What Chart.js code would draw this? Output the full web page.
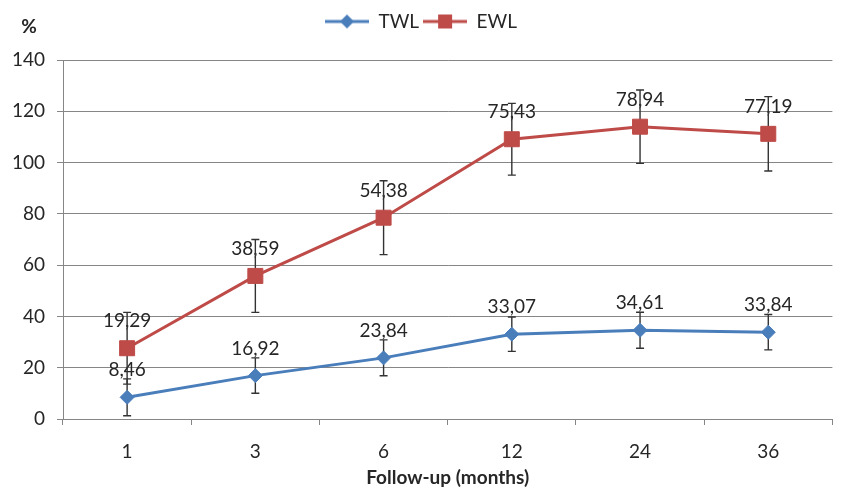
<!DOCTYPE html>
<html>
<head>
<meta charset="utf-8">
<script src="https://cdn.jsdelivr.net/npm/chart.js@4.4.1/dist/chart.umd.min.js"></script>
<style>
html,body{margin:0;padding:0;background:#fff;}
#wrap{width:844px;height:492px;}
</style>
</head>
<body>
<div id="wrap"><canvas id="c" width="844" height="492"></canvas></div>
<script>
const categories = ['1', '3', '6', '12', '24', '36'];
const twlValues = [8.46, 16.92, 23.84, 33.07, 34.61, 33.84];
const twlErrors = [7.2, 6.9, 7.0, 6.7, 7.0, 6.9];
const twlLabels = ['8,46', '16,92', '23,84', '33,07', '34,61', '33,84'];
const ewlValues = [27.6, 55.8, 78.5, 109.1, 114.0, 111.2];
const ewlErrors = [14.0, 14.2, 14.4, 14.0, 14.3, 14.5];
const ewlLabels = ['19,29', '38,59', '54,38', '75,43', '78,94', '77,19'];
const seriesNames = ['TWL', 'EWL'];
const yAxisUnit = '%';
const xAxisTitle = 'Follow-up (months)';

const FONT = 'Lato, "Open Sans", sans-serif';
const BLUE = '#4A7EBB';
const RED = '#BE4B48';
const TEXT = '#262626';

function legendIcon(color, shape) {
  const c = document.createElement('canvas');
  c.width = 44; c.height = 16;
  const g = c.getContext('2d');
  g.strokeStyle = color; g.lineWidth = 3;
  g.beginPath(); g.moveTo(0, 8); g.lineTo(44, 8); g.stroke();
  g.fillStyle = color;
  g.beginPath();
  if (shape === 'diamond') {
    g.moveTo(22, 1); g.lineTo(29, 8); g.lineTo(22, 15); g.lineTo(15, 8); g.closePath();
  } else {
    g.rect(15, 1, 14, 14);
  }
  g.fill();
  return c;
}
const icons = [legendIcon(BLUE, 'diamond'), legendIcon(RED, 'square')];

const extrasPlugin = {
  id: 'extras',
  afterInit(chart) {
    const lg = chart.legend;
    if (lg && !lg._patched) {
      const orig = lg.fit;
      lg.fit = function () { orig.call(this); this.height = 52; };
      lg._patched = true;
    }
  },
  beforeDatasetsDraw(chart) {
    const ctx = chart.ctx;
    const ys = chart.scales.y;
    ctx.save();
    ctx.font = '19px ' + FONT;
    ctx.fillStyle = TEXT;
    ctx.textAlign = 'center';
    ctx.textBaseline = 'middle';
    chart.data.datasets.forEach((ds, i) => {
      const meta = chart.getDatasetMeta(i);
      meta.data.forEach((pt, j) => {
        ctx.fillText(ds.pointText[j], pt.x, pt.y - 27);
      });
    });
    ctx.strokeStyle = '#333';
    ctx.lineWidth = 1.4;
    chart.data.datasets.forEach((ds, i) => {
      const meta = chart.getDatasetMeta(i);
      meta.data.forEach((pt, j) => {
        const v = ds.data[j], e = ds.errors[j];
        const yt = ys.getPixelForValue(v + e);
        const yb = ys.getPixelForValue(v - e);
        ctx.beginPath();
        ctx.moveTo(pt.x, yt); ctx.lineTo(pt.x, yb);
        ctx.moveTo(pt.x - 4, yt); ctx.lineTo(pt.x + 4, yt);
        ctx.moveTo(pt.x - 4, yb); ctx.lineTo(pt.x + 4, yb);
        ctx.stroke();
      });
    });
    ctx.restore();
  },
  afterDraw(chart) {
    const ctx = chart.ctx;
    ctx.save();
    ctx.font = 'bold 19px ' + FONT;
    ctx.fillStyle = TEXT;
    ctx.textAlign = 'center';
    ctx.textBaseline = 'middle';
    ctx.fillText(yAxisUnit, 29, 27);
    ctx.restore();
  }
};

new Chart(document.getElementById('c'), {
  type: 'line',
  data: {
    labels: categories,
    datasets: [
      {
        label: seriesNames[0], data: twlValues, errors: twlErrors, pointText: twlLabels,
        borderColor: BLUE, backgroundColor: BLUE, borderWidth: 3,
        pointStyle: 'rectRot', pointRadius: 7, pointHoverRadius: 7,
        pointBackgroundColor: BLUE, pointBorderColor: BLUE, pointBorderWidth: 1,
        tension: 0
      },
      {
        label: seriesNames[1], data: ewlValues, errors: ewlErrors, pointText: ewlLabels,
        borderColor: RED, backgroundColor: RED, borderWidth: 3,
        pointStyle: 'rect', pointRadius: 10.6, pointHoverRadius: 10.6,
        pointBackgroundColor: RED, pointBorderColor: RED, pointBorderWidth: 1,
        tension: 0
      }
    ]
  },
  options: {
    responsive: false,
    animation: false,
    events: [],
    layout: { padding: { left: 0, right: 2, top: 8, bottom: 0 } },
    plugins: {
      tooltip: { enabled: false },
      legend: {
        position: 'top',
        labels: {
          usePointStyle: true,
          pointStyleWidth: 44,
          padding: 4,
          color: TEXT,
          font: { family: FONT, size: 19 },
          generateLabels(chart) {
            const base = Chart.defaults.plugins.legend.labels.generateLabels(chart);
            return base.map((it, i) => Object.assign(it, { pointStyle: icons[i] }));
          }
        }
      }
    },
    scales: {
      x: {
        offset: true,
        grid: { offset: true, drawOnChartArea: false, drawTicks: true, tickLength: 6, color: '#868686' },
        border: { color: '#868686', width: 1 },
        ticks: { color: TEXT, font: { family: FONT, size: 19 }, padding: 15 },
        title: { display: true, text: xAxisTitle, color: TEXT, font: { family: FONT, size: 19, weight: 'bold' }, padding: { top: 8, bottom: 3 } },
        afterFit(s) { s.height = 73; }
      },
      y: {
        min: 0, max: 140,
        grid: { color: '#868686', tickLength: 6, drawTicks: true },
        border: { color: '#868686', width: 1 },
        ticks: { stepSize: 20, color: TEXT, font: { family: FONT, size: 19 }, padding: 12 },
        afterFit(s) { s.width = 63; }
      }
    }
  },
  plugins: [extrasPlugin]
});
</script>
</body>
</html>
